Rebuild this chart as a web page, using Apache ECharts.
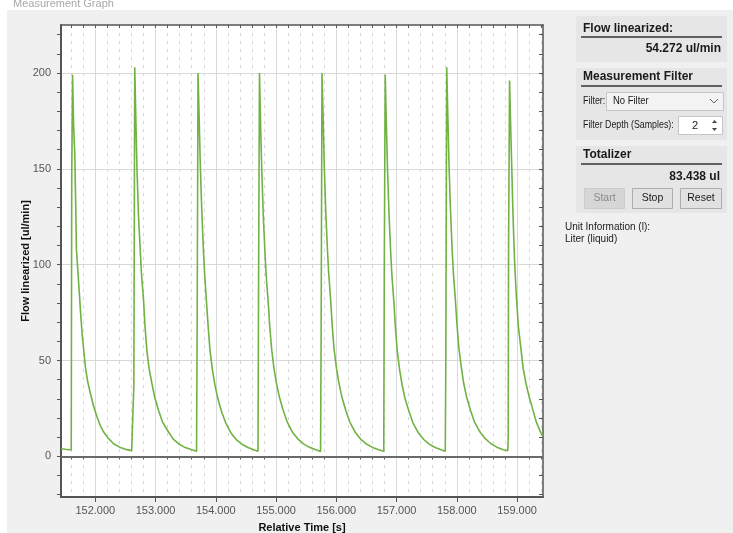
<!DOCTYPE html>
<html>
<head>
<meta charset="utf-8">
<script src="https://cdn.jsdelivr.net/npm/echarts@6/dist/echarts.min.js"></script>
<style>
html,body{margin:0;padding:0;background:#fff;}
#main{width:733px;height:533px;}
</style>
</head>
<body>
<div id="main"></div>
<script>
// sample times [s], one line per pulse
var times = [
  151.430, 151.500, 151.600,
  151.603, 151.608, 151.622, 151.640, 151.658, 151.675, 151.686, 151.724, 151.753, 151.780, 151.835, 151.873, 151.918, 151.973, 152.028, 152.083, 152.138, 152.213, 152.303, 152.403, 152.523, 152.603, 152.630,
  152.634, 152.639, 152.654, 152.675, 152.692, 152.717, 152.745, 152.764, 152.800, 152.824, 152.856, 152.891, 152.939, 152.984, 153.048, 153.114, 153.214, 153.294, 153.379, 153.479, 153.601, 153.680,
  153.684, 153.690, 153.704, 153.724, 153.742, 153.767, 153.793, 153.814, 153.848, 153.874, 153.904, 153.944, 153.986, 154.034, 154.098, 154.164, 154.254, 154.344, 154.434, 154.534, 154.640, 154.700,
  154.704, 154.709, 154.724, 154.745, 154.762, 154.787, 154.814, 154.834, 154.870, 154.894, 154.926, 154.964, 155.006, 155.054, 155.118, 155.184, 155.274, 155.364, 155.454, 155.554, 155.660, 155.738,
  155.742, 155.747, 155.762, 155.783, 155.800, 155.825, 155.852, 155.872, 155.907, 155.932, 155.962, 156.002, 156.044, 156.092, 156.156, 156.222, 156.312, 156.402, 156.492, 156.592, 156.700, 156.787,
  156.791, 156.796, 156.811, 156.832, 156.849, 156.874, 156.901, 156.921, 156.956, 156.981, 157.011, 157.051, 157.093, 157.141, 157.205, 157.271, 157.361, 157.451, 157.541, 157.641, 157.750, 157.808,
  157.812, 157.817, 157.832, 157.853, 157.870, 157.895, 157.922, 157.942, 157.977, 158.002, 158.032, 158.072, 158.114, 158.162, 158.226, 158.292, 158.382, 158.472, 158.562, 158.662, 158.770, 158.845,
  158.848, 158.853, 158.858, 158.875, 158.895, 158.912, 158.930, 158.958, 158.985, 159.020, 159.068, 159.100, 159.148, 159.200, 159.238, 159.318, 159.398, 159.430
];
// flow values [ul/min] matching the times above
var flow = [
  4.0, 3.7, 3.3,
  3.2, 144, 199, 172, 158, 130, 108, 90, 76, 64, 46.6, 39, 32.8, 26, 20.5, 16, 12.7, 9.5, 6.6, 4.8, 3.5, 3.0, 2.8,
  2.8, 37, 203, 172, 149, 125, 107.6, 96, 81.5, 68, 55, 46, 38, 31, 24, 18, 12.7, 9, 6.6, 4.8, 3.5, 2.7,
  2.7, 70, 200, 175, 152, 128, 108, 95, 79, 67, 55, 45, 37, 30, 23, 17.5, 12, 8.6, 6.3, 4.6, 3.3, 2.6,
  2.6, 90, 200, 170, 150, 126, 107, 95, 80, 68, 56, 46, 38, 31, 24, 18, 12.5, 9, 6.5, 4.7, 3.4, 2.6,
  2.6, 60, 200, 173, 151, 127, 108, 96, 81, 68, 56, 46, 38, 31, 24, 18, 12.6, 9, 6.6, 4.8, 3.5, 2.7,
  2.7, 100, 199, 171, 150, 127, 107, 95, 80, 67, 55, 45, 37, 30, 23.5, 17.5, 12.3, 8.8, 6.4, 4.6, 3.3, 2.7,
  2.7, 50, 203, 174, 152, 128, 108, 96, 81, 69, 57, 47, 38, 31, 24, 18, 12.8, 9.2, 6.7, 4.8, 3.4, 2.9,
  3.0, 10, 108, 196, 170, 150, 128, 102, 85, 68, 55, 46, 38, 31, 27, 18, 12, 10.5
];

var xLabels = [152, 153, 154, 155, 156, 157, 158, 159];
var yLabels = [0, 50, 100, 150, 200];
var yTicks = [];
for (var i = -20; i <= 220; i += 10) yTicks.push(i);
var xMinor = [];
for (var k = 0; k < 40; k++) {
  var v = Math.round((151.6 + k * 0.2) * 10) / 10;
  if (v > 159.43) break;
  if (xLabels.indexOf(v) < 0) xMinor.push(v);
}
var xAll = xMinor.concat(xLabels);

var flowText = '54.272 ul/min';
var totalText = '83.438 ul';

var points = [];
for (var j = 0; j < times.length; j++) points.push([times[j], flow[j]]);

var font = 'Liberation Sans';
var chart = echarts.init(document.getElementById('main'));

function txt(x, y, s, opt) {
  opt = opt || {};
  return {
    type: 'text', x: x, y: y, silent: true, scaleX: opt.sx || 1,
    style: {
      text: s, fill: opt.color || '#1a1a1a', font: (opt.bold ? 'bold ' : '') + (opt.size || 11) + 'px "' + font + '"',
      align: opt.align || 'left', verticalAlign: 'middle'
    }
  };
}
function box(x, y, w, h, fill, stroke) {
  return { type: 'rect', shape: { x: x, y: y, width: w, height: h }, silent: true,
    style: { fill: fill, stroke: stroke || null, lineWidth: 1 } };
}
function hline(x1, x2, y, color, w) {
  return { type: 'line', shape: { x1: x1, y1: y, x2: x2, y2: y }, silent: true,
    style: { stroke: color, lineWidth: w } };
}

var option = {
  backgroundColor: '#f0f0f0',
  animation: false,
  textStyle: { fontFamily: font },
  grid: { left: 61, right: 190, top: 25, bottom: 36, show: true, backgroundColor: '#ffffff', borderWidth: 0,
    outerBoundsMode: 'none', containLabel: false },
  xAxis: [
    {
      type: 'value', min: 151.43, max: 159.43, position: 'bottom',
      axisLine: { show: true, onZero: false, lineStyle: { color: '#555', width: 2 } },
      axisTick: { show: true, customValues: xLabels, length: 5, lineStyle: { color: '#555' } },
      axisLabel: { customValues: xLabels, color: '#555', fontSize: 11, margin: 8,
        formatter: function (v) { return v.toFixed(3); } },
      splitLine: { show: true, lineStyle: { color: '#d9d9d9', width: 1 } },
      name: 'Relative Time [s]', nameLocation: 'middle', nameGap: 25, nameMoveOverlap: false,
      nameTextStyle: { color: '#111', fontWeight: 'bold', fontSize: 11 }
    },
    {
      type: 'value', min: 151.43, max: 159.43, position: 'bottom',
      axisLine: { show: false },
      axisTick: { show: true, customValues: xMinor, length: 3, lineStyle: { color: '#555' } },
      axisLabel: { show: false },
      splitLine: { show: true, lineStyle: { color: '#d6d6d6', width: 1, type: [3, 5] } }
    },
    {
      type: 'value', min: 151.43, max: 159.43, position: 'top',
      axisLine: { show: true, onZero: false, lineStyle: { color: '#555', width: 1.5 } },
      axisTick: { show: true, inside: true, customValues: xAll, length: 3, lineStyle: { color: '#555' } },
      axisLabel: { show: false },
      splitLine: { show: false }
    }
  ],
  yAxis: [
    {
      type: 'value', min: -21.2, max: 225, position: 'left',
      axisLine: { show: true, onZero: false, lineStyle: { color: '#555', width: 2 } },
      axisTick: { show: true, customValues: yTicks, length: 4, lineStyle: { color: '#555' } },
      axisLabel: { customValues: yLabels, color: '#555', fontSize: 11, margin: 10 },
      splitLine: { show: false },
      name: 'Flow linearized [ul/min]', nameLocation: 'middle', nameGap: 30, nameMoveOverlap: false,
      nameTextStyle: { color: '#111', fontWeight: 'bold', fontSize: 11 }
    },
    {
      type: 'value', min: -21.2, max: 225, position: 'left',
      axisLine: { show: false },
      axisTick: { show: false, customValues: yLabels },
      axisLabel: { show: false },
      splitLine: { show: true, lineStyle: { color: '#d9d9d9', width: 1 } }
    },
    {
      type: 'value', min: -21.2, max: 225, position: 'right',
      axisLine: { show: true, onZero: false, lineStyle: { color: '#555', width: 1.5 } },
      axisTick: { show: true, inside: true, customValues: yTicks, length: 4, lineStyle: { color: '#555' } },
      axisLabel: { show: false },
      splitLine: { show: false }
    }
  ],
  series: [
    {
      type: 'line', xAxisIndex: 0, yAxisIndex: 0, data: points,
      showSymbol: false, symbol: 'none',
      lineStyle: { color: '#70b243', width: 1.6 },
      markLine: {
        silent: true, symbol: 'none', label: { show: false },
        lineStyle: { color: '#6a6a6a', width: 2, type: 'solid' },
        data: [{ yAxis: 0 }]
      },
      z: 5
    }
  ],
  graphic: [
    box(0, 0, 733, 10, '#ffffff'),
    box(0, 0, 7, 533, '#ffffff'),
    txt(13, 4, 'Measurement Graph', { color: '#a8a8a8', size: 11 }),

    box(576, 16, 151, 46, '#e6e6e6'),
    txt(583, 29, 'Flow linearized:', { bold: true, size: 12 }),
    hline(581, 722, 37, '#333', 1.5),
    txt(721, 49, flowText, { bold: true, size: 12, align: 'right' }),

    box(576, 68, 151, 72, '#e6e6e6'),
    txt(583, 77, 'Measurement Filter', { bold: true, size: 12 }),
    hline(581, 722, 86, '#333', 1.5),
    txt(583, 101, 'Filter:', { size: 10.5, sx: 0.85 }),
    box(606.5, 92.5, 117, 18, '#f3f3f3', '#c6c6c6'),
    txt(613, 101.5, 'No Filter', { size: 10.5, sx: 0.9 }),
    { type: 'polyline', silent: true, shape: { points: [[710, 99], [714, 103], [718, 99]] },
      style: { stroke: '#666', lineWidth: 1, fill: null } },
    txt(583, 125, 'Filter Depth (Samples):', { size: 10.5, sx: 0.84 }),
    box(678.5, 116.5, 44, 18, '#ffffff', '#c6c6c6'),
    txt(692, 125.5, '2', { size: 11 }),
    { type: 'polygon', silent: true, shape: { points: [[712, 123], [717, 123], [714.5, 120]] }, style: { fill: '#444' } },
    { type: 'polygon', silent: true, shape: { points: [[712, 128], [717, 128], [714.5, 131]] }, style: { fill: '#444' } },

    box(576, 146, 151, 67, '#e6e6e6'),
    txt(583, 155, 'Totalizer', { bold: true, size: 12 }),
    hline(581, 722, 164, '#333', 1.5),
    txt(720, 177, totalText, { bold: true, size: 12, align: 'right' }),
    box(584.5, 188.5, 40, 20, '#d6d6d6', '#cccccc'),
    txt(604.5, 198.5, 'Start', { size: 10.5, color: '#8a8a8a', align: 'center' }),
    box(632.5, 188.5, 40, 20, '#e1e1e1', '#adadad'),
    txt(652.5, 198.5, 'Stop', { size: 10.5, align: 'center' }),
    box(680.5, 188.5, 41, 20, '#e1e1e1', '#adadad'),
    txt(701, 198.5, 'Reset', { size: 10.5, align: 'center' }),

    txt(565, 227, 'Unit Information (l):', { size: 10 }),
    txt(565, 239, 'Liter (liquid)', { size: 10 })
  ]
};
chart.setOption(option);
</script>
</body>
</html>
